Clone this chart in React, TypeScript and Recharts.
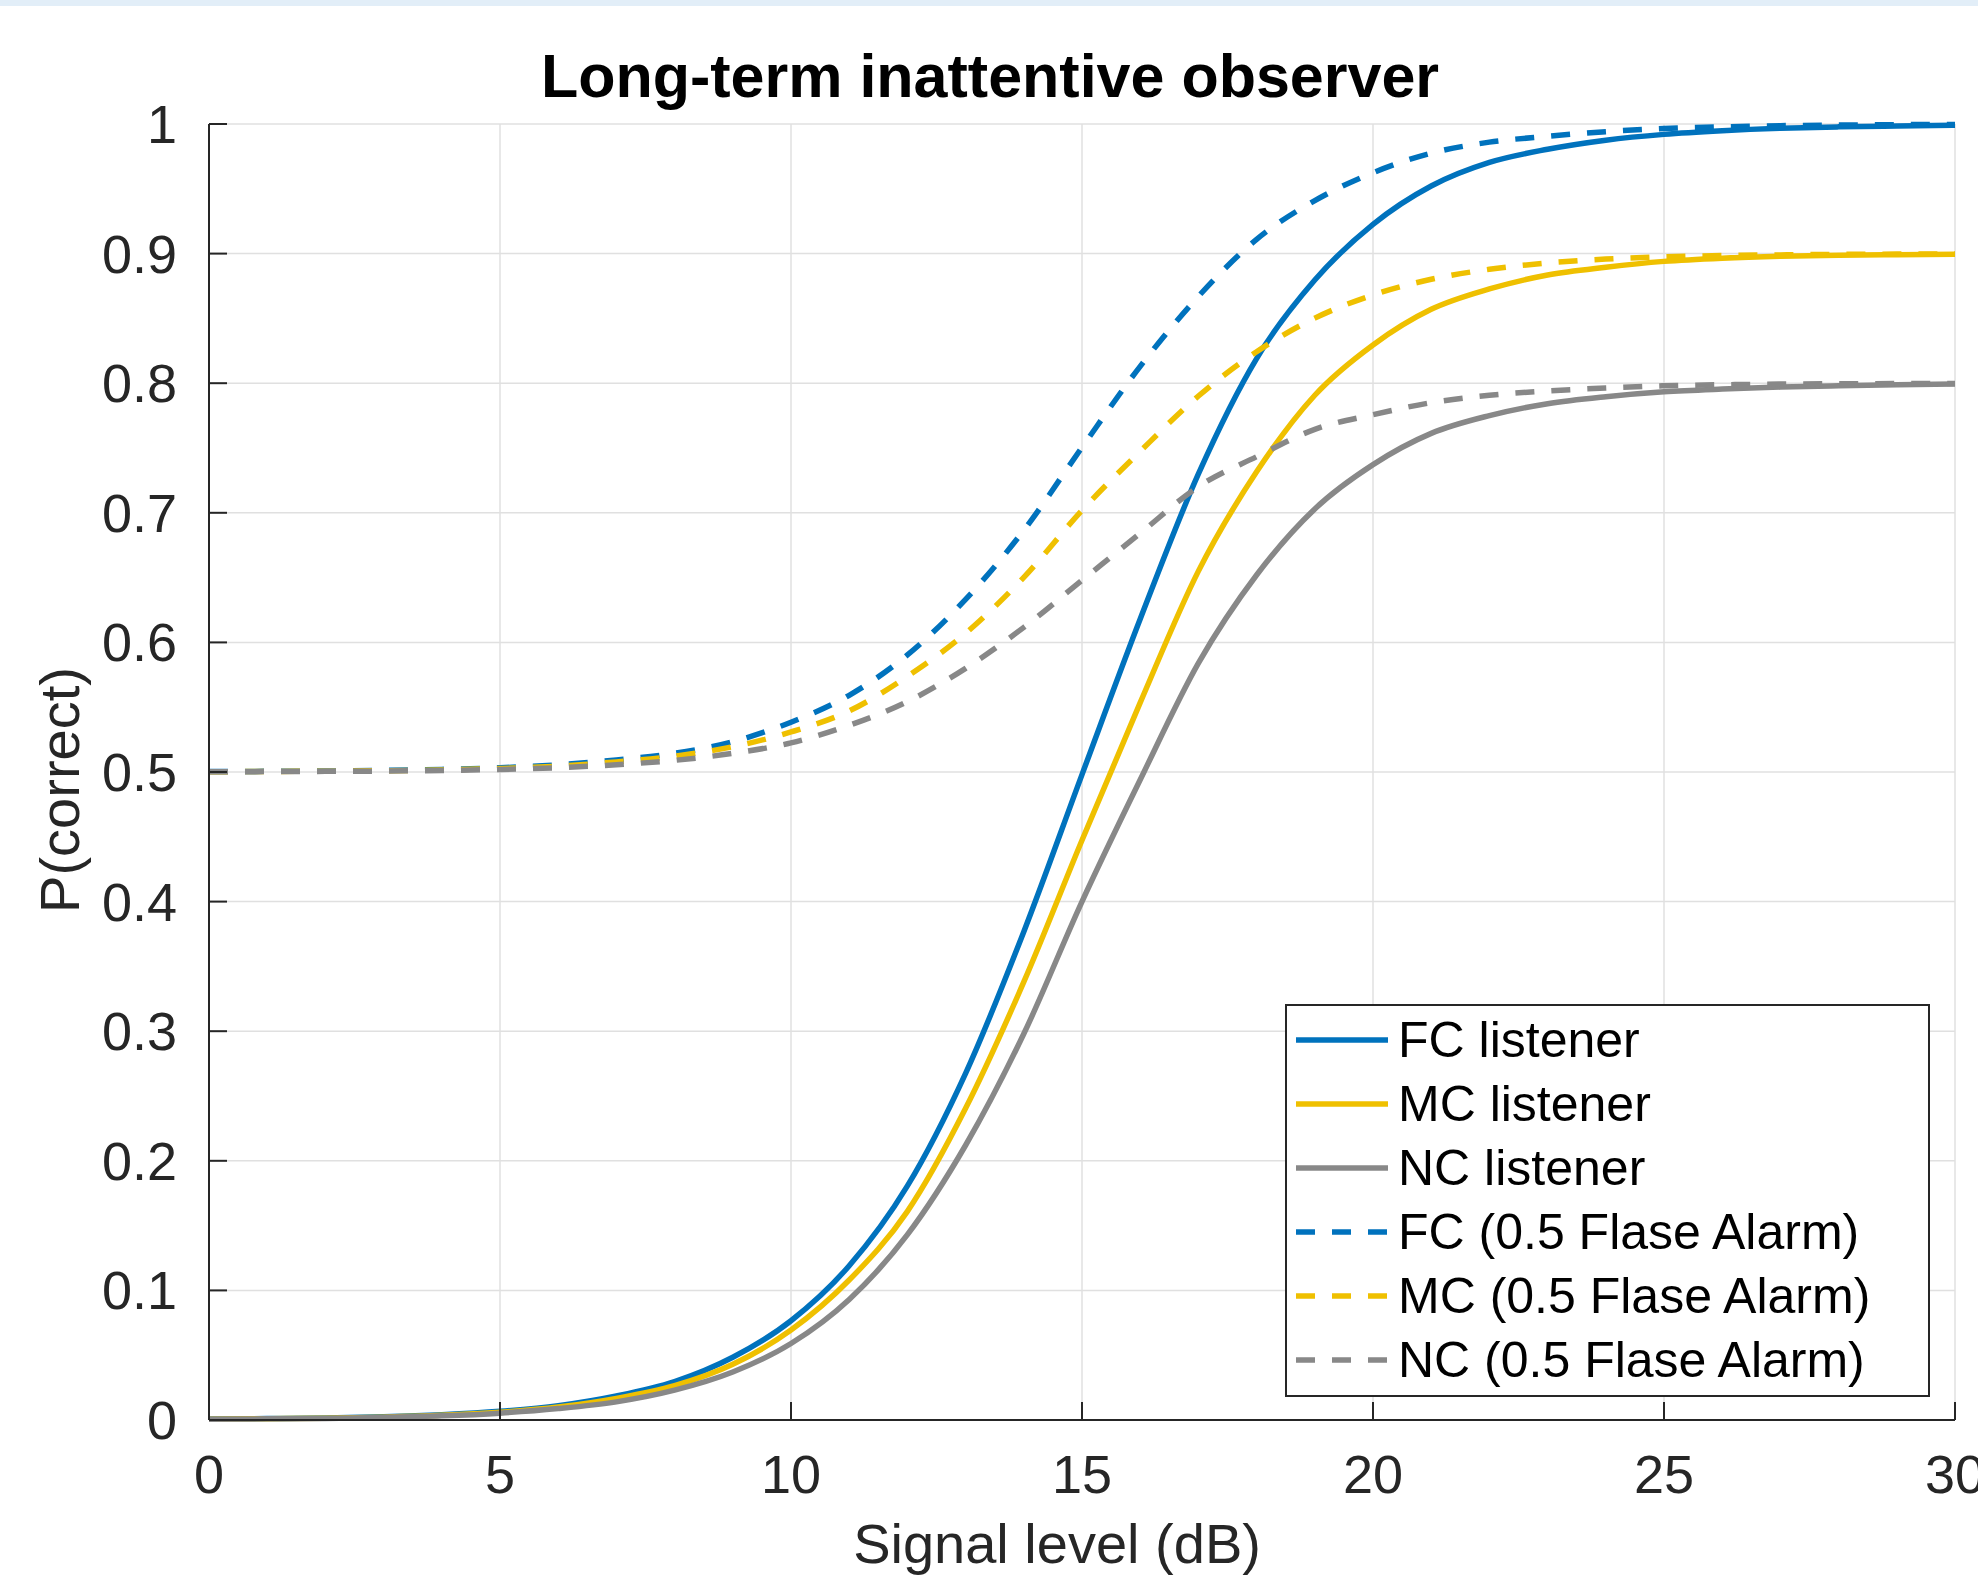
import React from 'react';
import { LineChart, Line, XAxis, YAxis, CartesianGrid, Legend } from 'recharts';

// Signal level in dB, one point per dB
const SIGNAL_DB = [
  0, 1, 2, 3, 4, 5, 6, 7, 8, 9, 10, 11, 12, 13, 14, 15,
  16, 17, 18, 19, 20, 21, 22, 23, 24, 25, 26, 27, 28, 29, 30,
];

// P(correct)
const FC_LISTENER = [
  0.0007, 0.0011, 0.0016, 0.0025, 0.0041, 0.0067, 0.011, 0.0185, 0.0296, 0.0484, 0.0766,
  0.119, 0.1806, 0.2675, 0.3768, 0.498, 0.618, 0.73, 0.819, 0.8796, 0.9226,
  0.9522, 0.9704, 0.9805, 0.9875, 0.992, 0.9948, 0.9967, 0.9978, 0.9985, 0.9991,
];
const MC_LISTENER = [
  0.0006, 0.001, 0.0014, 0.0022, 0.0036, 0.006, 0.01, 0.0167, 0.0265, 0.043, 0.0694,
  0.108, 0.161, 0.2405, 0.338, 0.4473, 0.5535, 0.655, 0.7316, 0.7907, 0.8295,
  0.857, 0.8727, 0.8835, 0.8895, 0.894, 0.8965, 0.898, 0.8988, 0.8992, 0.8995,
];
const NC_LISTENER = [
  0.0005, 0.0009, 0.0012, 0.002, 0.0032, 0.0053, 0.0088, 0.014, 0.023, 0.037, 0.059,
  0.093, 0.143, 0.212, 0.298, 0.4, 0.494, 0.584, 0.652, 0.703, 0.7372,
  0.7613, 0.775, 0.7842, 0.7896, 0.7934, 0.7955, 0.797, 0.798, 0.7988, 0.7993,
];
const FC_FALSE_ALARM = [
  0.5003, 0.5005, 0.5008, 0.5012, 0.502, 0.5033, 0.5056, 0.5093, 0.5144, 0.5234, 0.5384,
  0.5592, 0.5903, 0.6332, 0.6865, 0.7505, 0.813, 0.867, 0.911, 0.9409, 0.9624,
  0.9775, 0.986, 0.9905, 0.9941, 0.9965, 0.9978, 0.9987, 0.9992, 0.9995, 0.9997,
];
const MC_FALSE_ALARM = [
  0.5002, 0.5004, 0.5006, 0.501, 0.5016, 0.5027, 0.5045, 0.5078, 0.5122, 0.5195, 0.5309,
  0.5471, 0.5738, 0.607, 0.6502, 0.7019, 0.7474, 0.7901, 0.8243, 0.8502, 0.8681,
  0.8802, 0.8879, 0.8928, 0.8958, 0.8975, 0.8985, 0.899, 0.8994, 0.8996, 0.8998,
];
const NC_FALSE_ALARM = [
  0.5002, 0.5003, 0.5005, 0.5007, 0.5012, 0.502, 0.5033, 0.5056, 0.509, 0.5144, 0.5225,
  0.536, 0.5543, 0.58, 0.6116, 0.6479, 0.6842, 0.7202, 0.7433, 0.7644, 0.7757,
  0.785, 0.7907, 0.794, 0.7963, 0.798, 0.7988, 0.7993, 0.7996, 0.7997, 0.7998,
];

const X_TICKS = [0, 5, 10, 15, 20, 25, 30];
const Y_TICKS = [0, 0.1, 0.2, 0.3, 0.4, 0.5, 0.6, 0.7, 0.8, 0.9, 1];

const BLUE = '#0072BD';
const YELLOW = '#EFC000';
const GRAY = '#888888';
const DASH = '19 17';
const LINE_W = 5.5;

const SERIES = [
  { key: 'fc', name: 'FC listener', color: BLUE, dash: undefined, values: FC_LISTENER },
  { key: 'mc', name: 'MC listener', color: YELLOW, dash: undefined, values: MC_LISTENER },
  { key: 'nc', name: 'NC listener', color: GRAY, dash: undefined, values: NC_LISTENER },
  { key: 'fcFa', name: 'FC (0.5 Flase Alarm)', color: BLUE, dash: DASH, values: FC_FALSE_ALARM },
  { key: 'mcFa', name: 'MC (0.5 Flase Alarm)', color: YELLOW, dash: DASH, values: MC_FALSE_ALARM },
  { key: 'ncFa', name: 'NC (0.5 Flase Alarm)', color: GRAY, dash: DASH, values: NC_FALSE_ALARM },
];

const data = SIGNAL_DB.map((db, i) => {
  const row: Record<string, number> = { db };
  SERIES.forEach((s) => {
    row[s.key] = s.values[i];
  });
  return row;
});

const FONT = '"Liberation Sans", Arial, Helvetica, sans-serif';
const AXIS_COLOR = '#262626';
const TICK_LEN = 18;
const W = 1978;
const H = 1576;

// ticks point inward, like MATLAB
const BottomTick = ({ x, y, payload }: any) => (
  <g>
    <line x1={x} x2={x} y1={y} y2={y - TICK_LEN} stroke={AXIS_COLOR} strokeWidth={2} />
    <text x={x} y={y + 73} textAnchor="middle" fontSize={54} fontFamily={FONT} fill={AXIS_COLOR}>
      {payload.value}
    </text>
  </g>
);

const LeftTick = ({ x, y, payload }: any) => (
  <g>
    <line x1={x} x2={x + TICK_LEN} y1={y} y2={y} stroke={AXIS_COLOR} strokeWidth={2} />
    <text x={x - 32} y={y + 19} textAnchor="end" fontSize={54} fontFamily={FONT} fill={AXIS_COLOR}>
      {payload.value}
    </text>
  </g>
);

const TopTick = ({ x, y }: any) => (
  <line x1={x} x2={x} y1={y} y2={y + TICK_LEN} stroke={AXIS_COLOR} strokeWidth={2} />
);

const RightTick = ({ x, y }: any) => (
  <line x1={x} x2={x - TICK_LEN} y1={y} y2={y} stroke={AXIS_COLOR} strokeWidth={2} />
);

const renderLegend = (props: any) => {
  const payload: any[] = props.payload || [];
  const entries = SERIES.filter((s) => payload.some((p) => p.dataKey === s.key));
  return (
    <div
      style={{
        border: `2px solid ${AXIS_COLOR}`,
        background: '#fff',
        paddingTop: 2,
        paddingBottom: 3,
        boxSizing: 'border-box',
        width: 645,
      }}
    >
      {entries.map((s) => (
        <div key={s.key} style={{ height: 64, display: 'flex', alignItems: 'center' }}>
          <svg width={92} height={10} style={{ marginLeft: 9, flex: 'none' }}>
            <line
              x1={0}
              x2={92}
              y1={5}
              y2={5}
              stroke={s.color}
              strokeWidth={LINE_W}
              strokeDasharray={s.dash}
            />
          </svg>
          <span
            style={{
              marginLeft: 10,
              fontFamily: FONT,
              fontSize: 50,
              color: '#000',
              lineHeight: 1,
              whiteSpace: 'nowrap',
            }}
          >
            {s.name}
          </span>
        </div>
      ))}
    </div>
  );
};

const App: React.FC = () => {
  return (
    <div style={{ position: 'relative', width: W, height: H, background: '#fff', overflow: 'hidden' }}>
      <style>{'body { margin: 0; }'}</style>
      <div style={{ position: 'absolute', left: 0, top: 0, width: W, height: 6, background: '#e2eef8' }} />

      <LineChart
        width={W}
        height={H}
        data={data}
        margin={{ top: 124, right: 23, bottom: 0, left: 0 }}
      >
        <CartesianGrid xAxisId="b" yAxisId="l" stroke="#e0e0e0" strokeWidth={1.5} />
        <XAxis
          xAxisId="b"
          dataKey="db"
          type="number"
          domain={[0, 30]}
          ticks={X_TICKS}
          height={156}
          tickSize={0}
          tickMargin={0}
          tickLine={false}
          axisLine={{ stroke: AXIS_COLOR, strokeWidth: 2 }}
          tick={<BottomTick />}
          interval={0}
        />
        <XAxis
          xAxisId="t"
          orientation="top"
          type="number"
          domain={[0, 30]}
          ticks={X_TICKS}
          allowDataOverflow
          height={0}
          tickSize={0}
          tickMargin={0}
          tickLine={false}
          axisLine={{ stroke: AXIS_COLOR, strokeWidth: 2 }}
          tick={<TopTick />}
          interval={0}
        />
        <YAxis
          yAxisId="l"
          type="number"
          domain={[0, 1]}
          ticks={Y_TICKS}
          width={209}
          tickSize={0}
          tickMargin={0}
          tickLine={false}
          axisLine={{ stroke: AXIS_COLOR, strokeWidth: 2 }}
          tick={<LeftTick />}
          interval={0}
        />
        <YAxis
          yAxisId="r"
          orientation="right"
          type="number"
          domain={[0, 1]}
          ticks={Y_TICKS}
          allowDataOverflow
          width={0}
          tickSize={0}
          tickMargin={0}
          tickLine={false}
          axisLine={{ stroke: AXIS_COLOR, strokeWidth: 2 }}
          tick={<RightTick />}
          interval={0}
        />
        {SERIES.map((s) => (
          <Line
            key={s.key}
            xAxisId="b"
            yAxisId="l"
            type="monotone"
            dataKey={s.key}
            name={s.name}
            stroke={s.color}
            strokeWidth={LINE_W}
            strokeDasharray={s.dash}
            strokeLinejoin="round"
            dot={false}
            activeDot={false}
            isAnimationActive={false}
          />
        ))}
        <Legend
          layout="vertical"
          align="center"
          verticalAlign="middle"
          content={renderLegend}
          wrapperStyle={{ left: 1285, top: 1004, width: 645 }}
        />
      </LineChart>

      <svg
        width={W}
        height={H}
        style={{ position: 'absolute', left: 0, top: 0, pointerEvents: 'none' }}
      >
        <text x={990} y={97} textAnchor="middle" fontFamily={FONT} fontWeight="bold" fontSize={61} fill="#000">
          Long-term inattentive observer
        </text>
        <text x={1057} y={1563} textAnchor="middle" fontFamily={FONT} fontSize={56} fill={AXIS_COLOR}>
          Signal level (dB)
        </text>
        <text
          x={79}
          y={790}
          transform="rotate(-90 79 790)"
          textAnchor="middle"
          fontFamily={FONT}
          fontSize={56}
          fill={AXIS_COLOR}
        >
          P(correct)
        </text>
      </svg>
    </div>
  );
};

export default App;
